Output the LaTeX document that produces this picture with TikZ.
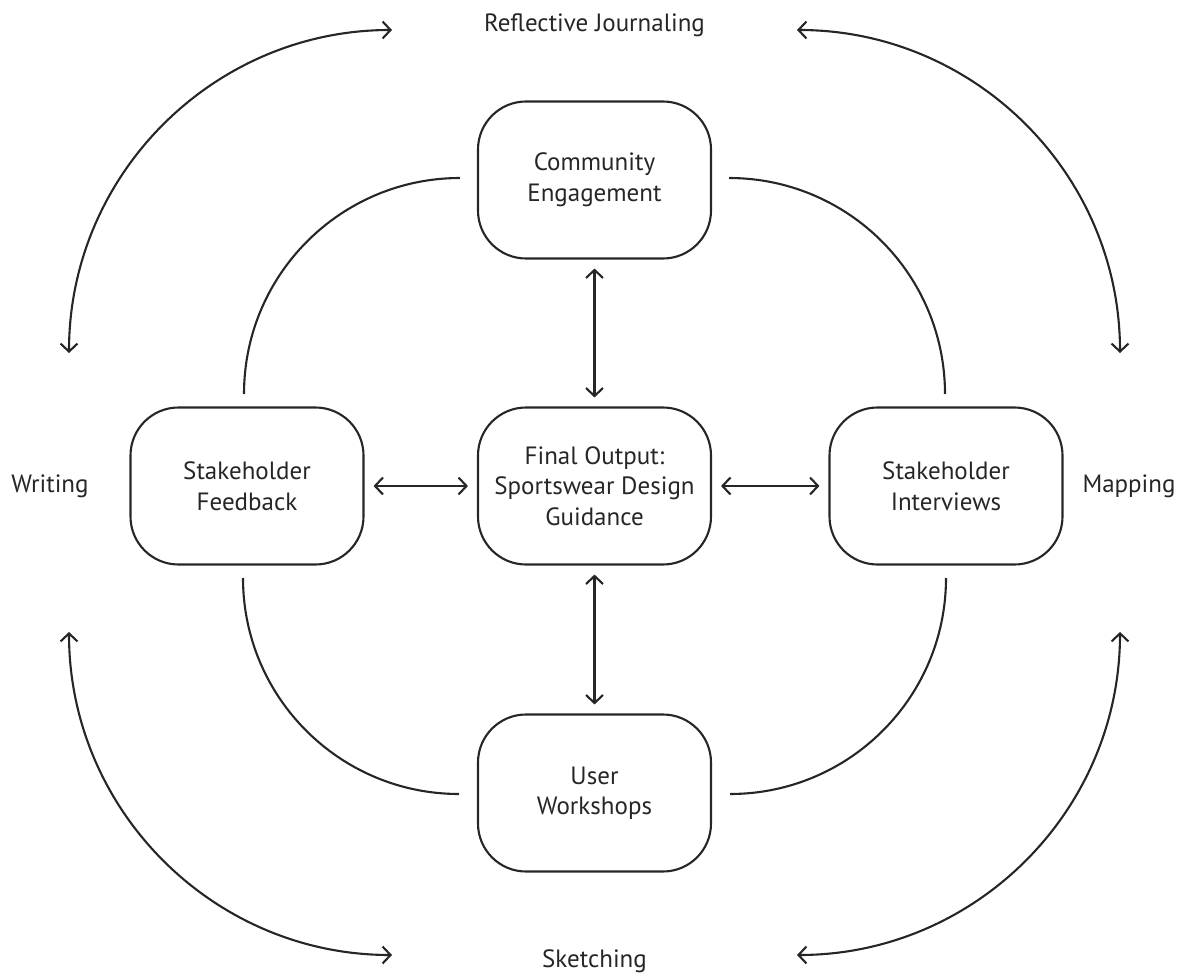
\documentclass[tikz,border=0pt]{standalone}
\usepackage{fontspec}
\setmainfont{PT Sans}
\usetikzlibrary{arrows.meta}
\begin{document}
\begin{tikzpicture}[x=1pt,y=-1pt,
  line width=2.1pt, draw=black!85, text=black!85,
  txt/.style={font=\fontsize{25}{30.5}\selectfont},
  stage/.style={txt, draw, rounded corners=48pt, align=center,
    minimum width=233pt, minimum height=157pt, inner sep=0pt},
  tipped/.style={{Straight Barb[length=8pt,width=17pt]}-{Straight Barb[length=8pt,width=17pt]}},
  link/.style={tipped, shorten <=9pt, shorten >=9pt}]
\useasboundingbox (0,0) rectangle (1194,976);

% central stages
\node[stage] (ce) at (594.5,180) {Community\\Engagement};
\node[stage] (fo) at (594.5,486) {Final Output:\\Sportswear Design\\Guidance};
\node[stage] (sf) at (247,486) {Stakeholder\\Feedback};
\node[stage] (si) at (946,486) {Stakeholder\\Interviews};
\node[stage] (uw) at (594.5,793) {User\\Workshops};

% outer method labels
\node[txt, anchor=base] (rj) at (594.5,32) {Reflective Journaling};
\node[txt, anchor=base] (sk) at (594.5,967) {Sketching};
\node[txt, anchor=base] (wr) at (50,492) {Writing};
\node[txt, anchor=base] (mp) at (1129,492) {Mapping};

% links to the final output
\draw[link] (ce) -- (fo);
\draw[link] (fo) -- (uw);
\draw[link] (sf) -- (fo);
\draw[link] (fo) -- (si);

% inner ring joining the stages
\coordinate (tl) at (460,178);
\coordinate (tr) at (729,178);
\coordinate (bl) at (243,578);
\coordinate (br) at (946,578);
\draw (tl) arc[start angle=270, end angle=180, radius=216];
\draw (tr) arc[start angle=270, end angle=360, radius=216];
\draw (bl) arc[start angle=180, end angle=90, radius=216];
\draw (br) arc[start angle=0, end angle=90, radius=216];

% outer ring of methods
\coordinate (otl) at (392,30);
\coordinate (otr) at (797,30);
\coordinate (obl) at (69,632);
\coordinate (obr) at (1120,632);
\draw[tipped] (otl) arc[start angle=270, end angle=180, radius=323];
\draw[tipped] (otr) arc[start angle=270, end angle=360, radius=323];
\draw[tipped] (obl) arc[start angle=180, end angle=90, radius=323];
\draw[tipped] (obr) arc[start angle=0, end angle=90, radius=323];
\end{tikzpicture}
\end{document}
